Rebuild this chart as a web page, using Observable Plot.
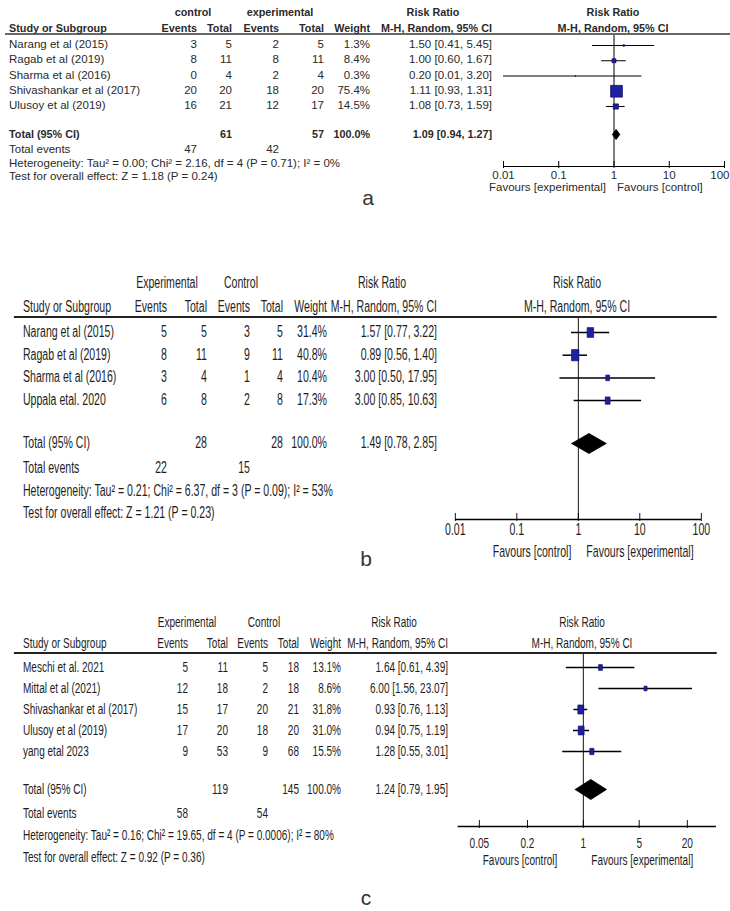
<!DOCTYPE html>
<html><head><meta charset="utf-8">
<script src="https://cdn.jsdelivr.net/npm/d3@7"></script>
<script src="https://cdn.jsdelivr.net/npm/@observablehq/plot@0.6"></script>
<style>
body{margin:0;background:#fff;overflow:hidden}
#page{position:relative;width:730px;height:911px;overflow:hidden;background:#fff}
.panel{position:absolute;left:0;transform-origin:0 0}
.panel svg{position:absolute;left:0;top:0;overflow:visible}
.t{position:absolute;white-space:nowrap;line-height:1}
</style></head><body><div id="page"></div>
<script>
// ---------- Panel a ----------
const studiesA = ["Narang et al (2015)", "Ragab et al (2019)", "Sharma et al (2016)", "Shivashankar et al (2017)", "Ulusoy et al (2019)"];
const groupsA = ["control", "experimental"];
const ctrlEventsA = [3, 8, 0, 20, 16];
const ctrlTotalA = [5, 11, 4, 20, 21];
const expEventsA = [2, 8, 2, 18, 12];
const expTotalA = [5, 11, 4, 20, 17];
const weightA = [1.3, 8.4, 0.3, 75.4, 14.5];
const rrA = [1.50, 1.00, 0.20, 1.11, 1.08];
const lowA = [0.41, 0.60, 0.01, 0.93, 0.73];
const highA = [5.45, 1.67, 3.20, 1.31, 1.59];
const totalsA = [61, 57];
const totalEventsA = [47, 42];
const pooledA = [1.09, 0.94, 1.27];
const hetA = "Heterogeneity: Tau² = 0.00; Chi² = 2.16, df = 4 (P = 0.71); I² = 0%";
const testA = "Test for overall effect: Z = 1.18 (P = 0.24)";
const ticksA = [0.01, 0.1, 1, 10, 100];
const tickLabelsA = ["0.01", "0.1", "1", "10", "100"];
const favoursA = ["Favours [experimental]", "Favours [control]"];

// ---------- Panel b ----------
const studiesB = ["Narang et al (2015)", "Ragab et al (2019)", "Sharma et al (2016)", "Uppala etal. 2020"];
const groupsB = ["Experimental", "Control"];
const expEventsB = [5, 8, 3, 6];
const expTotalB = [5, 11, 4, 8];
const ctrlEventsB = [3, 9, 1, 2];
const ctrlTotalB = [5, 11, 4, 8];
const weightB = [31.4, 40.8, 10.4, 17.3];
const rrB = [1.57, 0.89, 3.00, 3.00];
const lowB = [0.77, 0.56, 0.50, 0.85];
const highB = [3.22, 1.40, 17.95, 10.63];
const totalsB = [28, 28];
const totalEventsB = [22, 15];
const pooledB = [1.49, 0.78, 2.85];
const hetB = "Heterogeneity: Tau² = 0.21; Chi² = 6.37, df = 3 (P = 0.09); I² = 53%";
const testB = "Test for overall effect: Z = 1.21 (P = 0.23)";
const ticksB = [0.01, 0.1, 1, 10, 100];
const tickLabelsB = ["0.01", "0.1", "1", "10", "100"];
const favoursB = ["Favours [control]", "Favours [experimental]"];

// ---------- Panel c ----------
const studiesC = ["Meschi et al. 2021", "Mittal et al (2021)", "Shivashankar et al (2017)", "Ulusoy et al (2019)", "yang etal 2023"];
const groupsC = ["Experimental", "Control"];
const expEventsC = [5, 12, 15, 17, 9];
const expTotalC = [11, 18, 17, 20, 53];
const ctrlEventsC = [5, 2, 20, 18, 9];
const ctrlTotalC = [18, 18, 21, 20, 68];
const weightC = [13.1, 8.6, 31.8, 31.0, 15.5];
const rrC = [1.64, 6.00, 0.93, 0.94, 1.28];
const lowC = [0.61, 1.56, 0.76, 0.75, 0.55];
const highC = [4.39, 23.07, 1.13, 1.19, 3.01];
const totalsC = [119, 145];
const totalEventsC = [58, 54];
const pooledC = [1.24, 0.79, 1.95];
const hetC = "Heterogeneity: Tau² = 0.16; Chi² = 19.65, df = 4 (P = 0.0006); I² = 80%";
const testC = "Test for overall effect: Z = 0.92 (P = 0.36)";
const ticksC = [0.05, 0.2, 1, 5, 20];
const tickLabelsC = ["0.05", "0.2", "1", "5", "20"];
const favoursC = ["Favours [control]", "Favours [experimental]"];

const FONT = '"Liberation Sans", Arial, Helvetica, sans-serif';
const page = document.getElementById("page");

function buildPanel(D, L) {
  const s = L.s, W = 730 / s;
  const div = document.createElement("div");
  div.className = "panel";
  Object.assign(div.style, {top: L.top + "px", width: W + "px", height: L.h + "px",
    transform: `scaleX(${s})`, fontFamily: FONT, fontSize: L.font + "px", color: L.color});
  page.appendChild(div);
  const X = x => x / s, Y = y => y - L.top;
  const row = py => (py - L.row0) / L.step;
  const n = D.studies.length, idx = d3.range(n);
  const tr = row(L.totalY), ar = row(L.axisY);
  const [pe, pl, ph] = D.pooled;
  const dh = L.diamondH / L.step;
  const diamond = [[pl, tr], [pe, tr - dh], [ph, tr], [pe, tr + dh], [pl, tr]];
  const nt = D.ticks.length;
  const innerTicks = d3.range(nt - 1);

  const svg = Plot.plot({
    width: W, height: L.h, margin: 0,
    style: {fontFamily: FONT, background: "transparent", overflow: "visible"},
    x: {type: "log", domain: L.xDomain, range: [X(L.xRange[0]), X(L.xRange[1])], axis: null},
    y: {type: "linear", domain: [0, 1], range: [Y(L.row0), Y(L.row0 + L.step)], axis: null},
    r: {type: "sqrt", domain: [0, 100], range: [0, L.rmax]},
    marks: [
      Plot.ruleX([1], {y1: row(L.lineY), y2: ar, stroke: "#000", strokeWidth: L.vw}),
      Plot.ruleY(idx, {y: i => i, x1: i => D.low[i], x2: i => D.high[i], stroke: "#000", strokeWidth: L.ciw}),
      Plot.dot(idx, {x: i => D.rr[i], y: i => i, r: i => D.weight[i], symbol: "square",
        fill: "#1f1fa3", stroke: "#0c0c66", strokeWidth: 0.8}),
      Plot.line(diamond, {x: d => d[0], y: d => d[1], fill: "#000", stroke: "#000", strokeWidth: 1}),
      Plot.ruleY([ar], {y: d => d, x1: L.axisX[0], x2: L.axisX[1], stroke: "#000", strokeWidth: L.aw}),
      Plot.ruleX(D.ticks, {x: d => d, y1: () => ar - L.tickUp / L.step, y2: () => ar + L.tickDown / L.step,
        stroke: "#000", strokeWidth: L.aw}),
      Plot.text(innerTicks, {x: i => D.ticks[i], y: () => ar, dy: L.tickDy, text: i => D.tickLabels[i],
        fontSize: L.font, fill: L.color}),
      Plot.text([nt - 1], {x: i => D.ticks[i], y: () => ar, dy: L.tickDy, dx: L.lastTickDx / s, text: i => D.tickLabels[i],
        textAnchor: L.lastTickAnchor, fontSize: L.font, fill: L.color}),
      Plot.text([D.favours[0]], {x: () => 1, y: () => ar, dy: L.favDy, dx: L.favDx[0] / s, text: d => d,
        textAnchor: "end", fontSize: L.font, fill: L.color}),
      Plot.text([D.favours[1]], {x: () => 1, y: () => ar, dy: L.favDy, dx: L.favDx[1] / s, text: d => d,
        textAnchor: "start", fontSize: L.font, fill: L.color})
    ]
  });
  div.appendChild(svg);

  function put(text, x, y, align, bold, size) {
    const t = document.createElement("div");
    t.className = "t";
    t.textContent = text;
    t.style.left = X(x) + "px";
    t.style.top = Y(y) + "px";
    t.style.transform = align === "left" ? "translate(0,-50%)" : align === "right" ? "translate(-100%,-50%)" : "translate(-50%,-50%)";
    if (bold) t.style.fontWeight = "bold";
    if (size) t.style.fontSize = size + "px";
    div.appendChild(t);
  }
  const B = L.bold, HF = L.headFont;
  // header line
  const hl = document.createElement("div");
  Object.assign(hl.style, {position: "absolute", left: X(L.lineX[0]) + "px", top: (Y(L.lineY) - L.lineW / 2) + "px",
    width: X(L.lineX[1] - L.lineX[0]) + "px", height: L.lineW + "px", background: L.lineColor});
  div.appendChild(hl);
  // headers
  put(D.groups[0], L.g1X, L.head1Y, "center", B, HF);
  put(D.groups[1], L.g2X, L.head1Y, "center", B, HF);
  put("Risk Ratio", L.rrHeadX, L.head1Y, "center", B, HF);
  put("Risk Ratio", L.fHeadX, L.head1Y, "center", B, HF);
  put("Study or Subgroup", L.nameX, L.head2Y, "left", B, HF);
  ["Events", "Total", "Events", "Total", "Weight", "M-H, Random, 95% CI"].forEach((h, j) => put(h, L.cols[j], L.head2Y, "right", B, HF));
  put("M-H, Random, 95% CI", L.fHeadX, L.head2Y, "center", B, HF);
  // rows
  const f2 = v => v.toFixed(2);
  idx.forEach(i => {
    const y = L.row0 + i * L.step;
    put(D.studies[i], L.nameX, y, "left", false);
    D.cols.forEach((arr, j) => put(String(arr[i]), L.cols[j], y, "right", false));
    put(D.weight[i].toFixed(1) + "%", L.cols[4], y, "right", false);
    put(`${f2(D.rr[i])} [${f2(D.low[i])}, ${f2(D.high[i])}]`, L.cols[5], y, "right", false);
  });
  // totals
  put("Total (95% CI)", L.nameX, L.totalY, "left", B, HF);
  put(String(D.totals[0]), L.cols[1], L.totalY, "right", B, HF);
  put(String(D.totals[1]), L.cols[3], L.totalY, "right", B, HF);
  put("100.0%", L.cols[4], L.totalY, "right", B, HF);
  put(`${f2(pe)} [${f2(pl)}, ${f2(ph)}]`, L.cols[5], L.totalY, "right", B, HF);
  put("Total events", L.nameX, L.eventsY, "left", false);
  put(String(D.totalEvents[0]), L.cols[0], L.eventsY, "right", false);
  put(String(D.totalEvents[1]), L.cols[2], L.eventsY, "right", false);
  put(D.het, L.nameX, L.hetY, "left", false);
  put(D.test, L.nameX, L.testY, "left", false);
  // panel letter (not condensed)
  const lab = document.createElement("div");
  lab.className = "t";
  lab.textContent = L.label[0];
  Object.assign(lab.style, {left: L.label[1] + "px", top: L.label[2] + "px", transform: "translate(-50%,-50%)",
    fontFamily: FONT, fontSize: "21px", color: "#333"});
  page.appendChild(lab);
}

buildPanel({studies: studiesA, groups: groupsA, cols: [ctrlEventsA, ctrlTotalA, expEventsA, expTotalA],
  weight: weightA, rr: rrA, low: lowA, high: highA, totals: totalsA, totalEvents: totalEventsA, pooled: pooledA,
  het: hetA, test: testA, ticks: ticksA, tickLabels: tickLabelsA, favours: favoursA},
  {top: 0, h: 215, s: 1, font: 11.5, headFont: 10.8, color: "#2a2a2a", bold: true,
   nameX: 9, cols: [197, 232, 279, 324, 370, 492], g1X: 193, g2X: 280, rrHeadX: 433, fHeadX: 613,
   head1Y: 12, head2Y: 28, lineY: 33.5, lineX: [5, 730], lineColor: "#6a6a6a", lineW: 2,
   row0: 45, step: 15.25, totalY: 134, eventsY: 150, hetY: 164, testY: 177,
   xDomain: [0.01, 100], xRange: [503, 724], axisY: 166, axisX: [0.01, 100], tickUp: 5, tickDown: 2,
   tickDy: 9, lastTickDx: 5, lastTickAnchor: "end", favDy: 21, favDx: [-8, 3], diamondH: 5, rmax: 7.6,
   vw: 1, ciw: 1, aw: 1, label: ["a", 368, 197]});

buildPanel({studies: studiesB, groups: groupsB, cols: [expEventsB, expTotalB, ctrlEventsB, ctrlTotalB],
  weight: weightB, rr: rrB, low: lowB, high: highB, totals: totalsB, totalEvents: totalEventsB, pooled: pooledB,
  het: hetB, test: testB, ticks: ticksB, tickLabels: tickLabelsB, favours: favoursB},
  {top: 250, h: 320, s: 0.66, font: 16, headFont: 16, color: "#1e1e1e", bold: false,
   nameX: 23, cols: [167, 207, 250, 283, 327, 437], g1X: 167, g2X: 241, rrHeadX: 382, fHeadX: 577,
   head1Y: 283, head2Y: 307, lineY: 317, lineX: [14, 717], lineColor: "#222", lineW: 2,
   row0: 332, step: 22.7, totalY: 443, eventsY: 468, hetY: 491, testY: 513,
   xDomain: [0.01, 100], xRange: [455, 701], axisY: 519, axisX: [0.01, 100], tickUp: 6, tickDown: 2,
   tickDy: 10, lastTickDx: 0, lastTickAnchor: "middle", favDy: 32, favDx: [-7, 8], diamondH: 10, rmax: 9.9,
   vw: 1.4, ciw: 1.5, aw: 1.4, label: ["b", 366, 558]});

buildPanel({studies: studiesC, groups: groupsC, cols: [expEventsC, expTotalC, ctrlEventsC, ctrlTotalC],
  weight: weightC, rr: rrC, low: lowC, high: highC, totals: totalsC, totalEvents: totalEventsC, pooled: pooledC,
  het: hetC, test: testC, ticks: ticksC, tickLabels: tickLabelsC, favours: favoursC},
  {top: 600, h: 311, s: 0.66, font: 15.2, headFont: 15.2, color: "#1e1e1e", bold: false,
   nameX: 23, cols: [188, 228, 268, 299, 341, 448], g1X: 187, g2X: 264, rrHeadX: 394, fHeadX: 582,
   head1Y: 622, head2Y: 643, lineY: 653, lineX: [14, 717], lineColor: "#222", lineW: 2,
   row0: 667, step: 21, totalY: 789, eventsY: 813, hetY: 835, testY: 857,
   xDomain: [0.05, 20], xRange: [479, 687], axisY: 826, axisX: [0.027, 46], tickUp: 6, tickDown: 2,
   tickDy: 17, lastTickDx: 0, lastTickAnchor: "middle", favDy: 34, favDx: [-26, 8], diamondH: 10, rmax: 9,
   vw: 1.4, ciw: 1.5, aw: 1.4, label: ["c", 366, 897]});
</script>
</body></html>
